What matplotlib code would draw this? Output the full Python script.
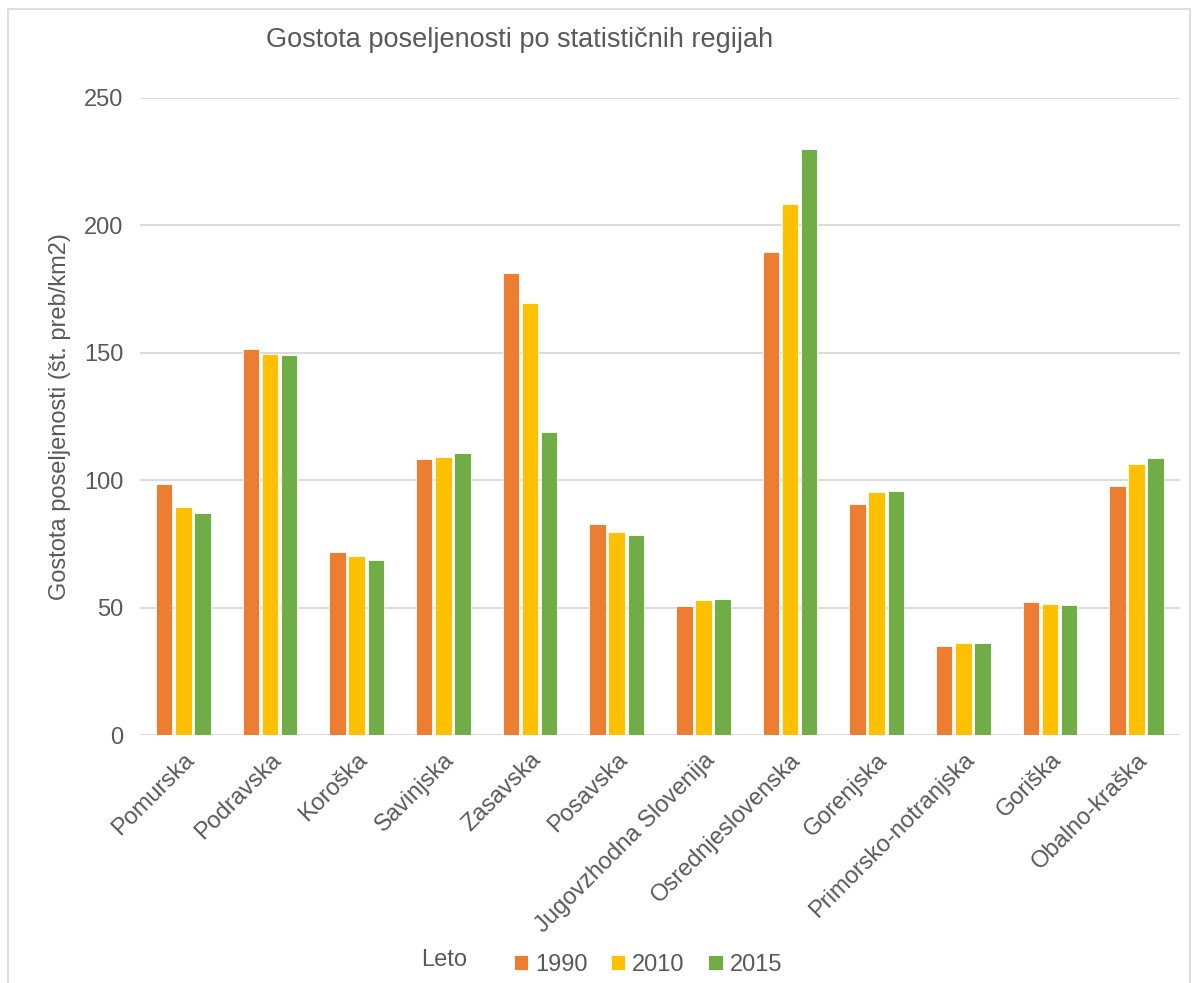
import matplotlib
matplotlib.use("Agg")
import matplotlib.pyplot as plt
import numpy as np
from matplotlib.patches import Rectangle

plt.rcParams['font.family'] = ['Liberation Sans', 'DejaVu Sans']

regions = ["Pomurska", "Podravska", "Koroška", "Savinjska", "Zasavska", "Posavska",
           "Jugovzhodna Slovenija", "Osrednjeslovenska", "Gorenjska",
           "Primorsko-notranjska", "Goriška", "Obalno-kraška"]
years = ["1990", "2010", "2015"]
v1990 = [98.5, 151.5, 71.8, 108.3, 181.5, 83.0, 50.6, 189.6, 90.7, 34.9, 52.2, 97.7]
v2010 = [89.5, 149.5, 70.3, 109.1, 169.5, 79.7, 53.0, 208.4, 95.3, 36.1, 51.4, 106.3]
v2015 = [87.2, 149.0, 68.7, 110.7, 118.9, 78.5, 53.4, 229.8, 95.8, 36.3, 51.0, 108.6]
colors = ["#ED7D31", "#FFC000", "#70AD47"]
text_col = "#595959"

fig = plt.figure(figsize=(11.95, 9.83), dpi=100)
ax = fig.add_axes([140/1195, 1-735/983, 1040/1195, (735-98)/983])

x = np.arange(len(regions))
w = 0.19
step = 0.22
for i, (vals, c, lab) in enumerate(zip([v1990, v2010, v2015], colors, years)):
    ax.bar(x + (i-1)*step, vals, width=w, color=c, edgecolor='white', linewidth=0.6, label=lab, zorder=3)

ax.set_xlim(-0.5, len(regions)-0.5)
ax.set_ylim(0, 250)
ax.set_yticks([0, 50, 100, 150, 200, 250])
ax.yaxis.grid(True, color="#D9D9D9", linewidth=1.3, zorder=0)
ax.set_axisbelow(True)
for s in ax.spines.values():
    s.set_visible(False)
ax.tick_params(axis='both', length=0, labelsize=17, colors=text_col)
ax.tick_params(axis='y', pad=12)
ax.set_xticks(x)
ax.set_xticklabels(regions, rotation=45, ha='right', rotation_mode='anchor')
ax.tick_params(axis='x', pad=10)
ax.set_ylabel("Gostota poseljenosti (št. preb/km2)", fontsize=17, color=text_col, labelpad=9)

fig.text(520/1195, 1-40/983, "Gostota poseljenosti po statističnih regijah", fontsize=19.5,
         color=text_col, ha='center', va='center')

leg = fig.legend(loc='center', bbox_to_anchor=(648/1195, 1-965/983), ncol=3, frameon=False,
                 fontsize=17, handlelength=0.6, handleheight=0.6, handletextpad=0.3,
                 columnspacing=1.0, labelcolor=text_col)
fig.text(444/1195, 1-960/983, "Leto", fontsize=17, color=text_col, ha='center', va='center')

fig.patches.append(Rectangle((8/1195, -0.05), (1190-8)/1195, 1.05-9/983, transform=fig.transFigure,
                             fill=False, edgecolor="#D9D9D9", linewidth=1.2))

fig.savefig("out.png", dpi=100, facecolor='white')
